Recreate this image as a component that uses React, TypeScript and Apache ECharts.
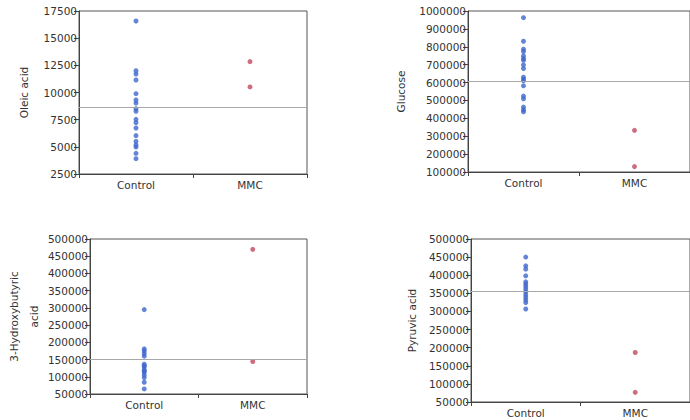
import React, { useEffect, useRef } from "react";
import * as echarts from "echarts";

const groups = ["Control", "MMC"];

const oleicControl = [16580, 12010, 11700, 11150, 9890, 9310, 9030, 8510, 8270, 7530, 7220, 6730, 6030, 5510, 5170, 4980, 4400, 3910];
const oleicMMC = [12840, 10510];
const oleicMean = 8600;

const glucoseControl = [962800, 830900, 786300, 773300, 749100, 734200, 724900, 698900, 678400, 630100, 618900, 609600, 581800, 524200, 509300, 462800, 448000, 436800];
const glucoseMMC = [332700, 130100];
const glucoseMean = 609600;

const hbControl = [295000, 181000, 175400, 167600, 159900, 136500, 132000, 128800, 121000, 117000, 113200, 105500, 97700, 84100, 64700];
const hbMMC = [469900, 144300];
const hbMean = 150000;

const pyruvicControl = [450100, 426000, 416800, 398300, 381700, 375200, 368700, 361400, 354000, 346600, 339200, 331800, 324400, 306800];
const pyruvicMMC = [186700, 76700];
const pyruvicMean = 354900;

const panels = [
  { name: "Oleic acid", control: oleicControl, mmc: oleicMMC, mean: oleicMean, min: 2500, max: 17500, interval: 2500, grid: { left: 79, top: 11, width: 228, height: 163 }, nameGap: 45 },
  { name: "Glucose", control: glucoseControl, mmc: glucoseMMC, mean: glucoseMean, min: 100000, max: 1000000, interval: 100000, grid: { left: 468, top: 11, width: 226, height: 161 }, nameGap: 57 },
  { name: "3-Hydroxybutyric\nacid", control: hbControl, mmc: hbMMC, mean: hbMean, min: 50000, max: 500000, interval: 50000, grid: { left: 90, top: 239, width: 217, height: 155 }, nameGap: 46 },
  { name: "Pyruvic acid", control: pyruvicControl, mmc: pyruvicMMC, mean: pyruvicMean, min: 50000, max: 500000, interval: 50000, grid: { left: 471, top: 239, width: 224, height: 163 }, nameGap: 49 },
];

const FONT = "DejaVu Sans";
const TEXT = "#333";
const BLUE = "#3f68cc";
const RED = "#c2485e";

export default function App() {
  const ref = useRef<HTMLDivElement>(null);
  useEffect(() => {
    const chart = echarts.init(ref.current!, null, { renderer: "svg" });
    const grid: any[] = [];
    const xAxis: any[] = [];
    const yAxis: any[] = [];
    const series: any[] = [];
    panels.forEach((p, i) => {
      grid.push({ ...p.grid, show: true, borderColor: "#555", borderWidth: 1, backgroundColor: "transparent" });
      xAxis.push({
        type: "category",
        gridIndex: i,
        data: groups,
        boundaryGap: true,
        axisLine: { lineStyle: { color: "#444", width: 1 } },
        axisTick: { show: true, length: 4, lineStyle: { color: "#444" } },
        axisLabel: { color: TEXT, fontFamily: FONT, fontSize: 10.5, margin: 5 },
        splitLine: { show: false },
      });
      yAxis.push({
        type: "value",
        gridIndex: i,
        min: p.min,
        max: p.max,
        interval: p.interval,
        name: p.name,
        nameLocation: "middle",
        nameGap: p.nameGap,
        nameTextStyle: { color: TEXT, fontFamily: FONT, fontSize: 10.5, lineHeight: 20 },
        axisLine: { show: true, lineStyle: { color: "#444", width: 1 } },
        axisTick: { show: true, length: 5, lineStyle: { color: "#444" } },
        axisLabel: { color: TEXT, fontFamily: FONT, fontSize: 10.5, margin: 2, formatter: (v: number) => String(v) },
        splitLine: { show: false },
      });
      series.push({
        type: "scatter",
        xAxisIndex: i,
        yAxisIndex: i,
        symbolSize: 5,
        itemStyle: { color: BLUE },
        data: p.control.map((v) => [groups[0], v]),
        markLine: {
          silent: true,
          symbol: ["none", "none"],
          label: { show: false },
          lineStyle: { color: "#a8a8a8", width: 1, type: "solid" },
          data: [{ yAxis: p.mean }],
        },
      });
      series.push({
        type: "scatter",
        xAxisIndex: i,
        yAxisIndex: i,
        symbolSize: 5,
        itemStyle: { color: RED },
        data: p.mmc.map((v) => [groups[1], v]),
      });
    });
    chart.setOption({ animation: false, backgroundColor: "#fff", grid, xAxis, yAxis, series });
    return () => chart.dispose();
  }, []);
  return <div ref={ref} style={{ position: "absolute", left: 0, top: 0, width: 690, height: 420 }} />;
}
